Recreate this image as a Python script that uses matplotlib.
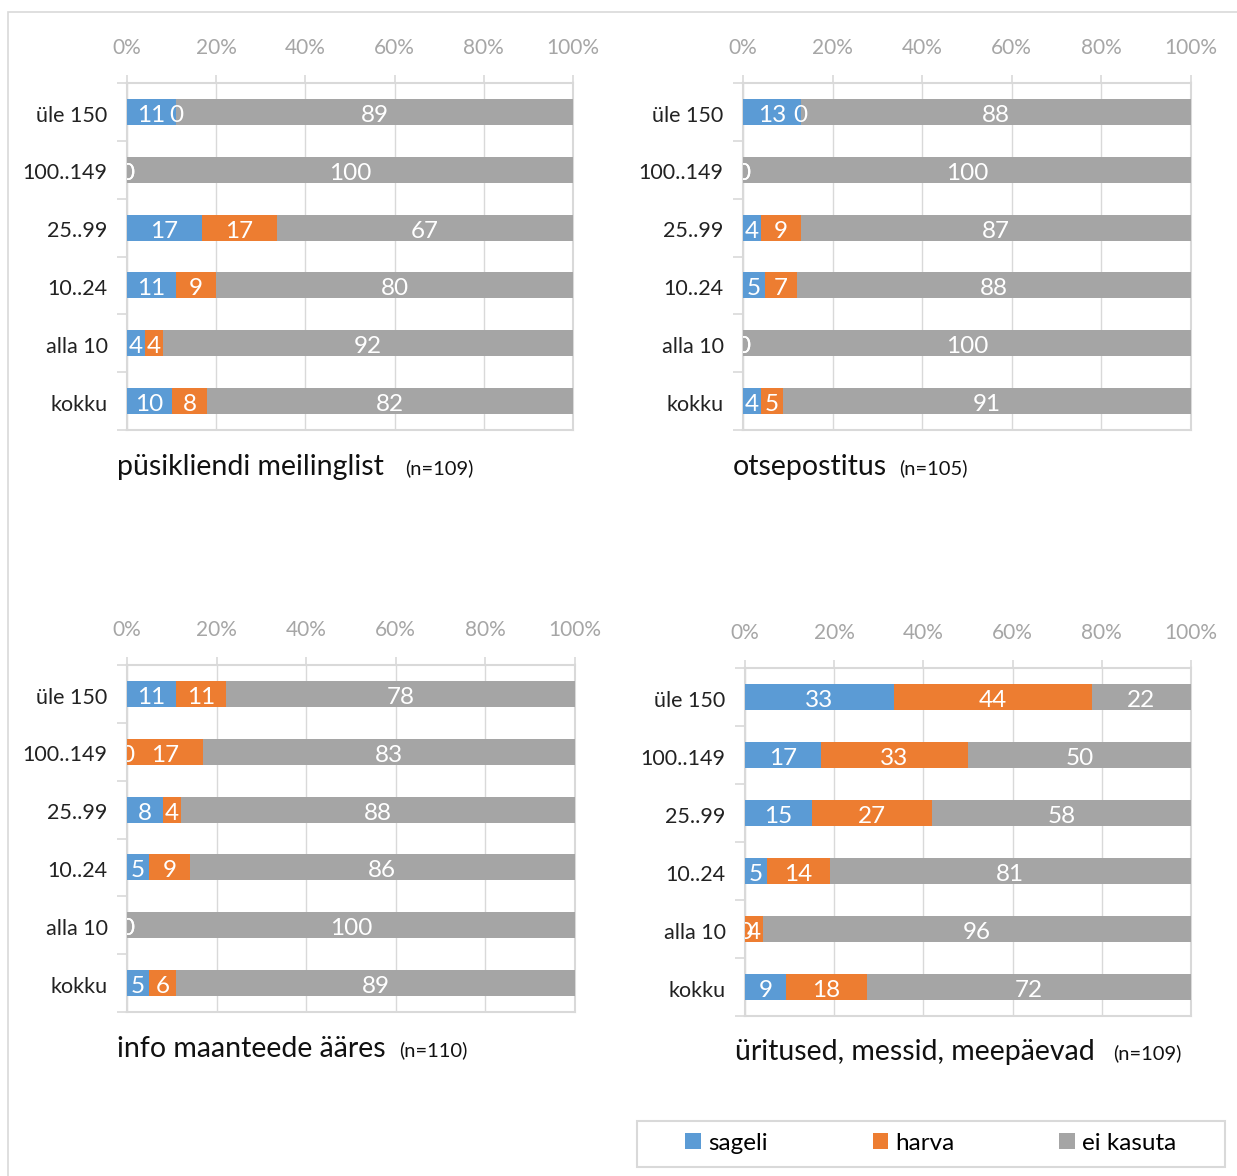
import matplotlib
matplotlib.use("Agg")
import matplotlib.pyplot as plt
import numpy as np
from matplotlib.patches import Rectangle, Patch

plt.rcParams['font.family'] = ['Lato', 'DejaVu Sans']

W, H = 1237, 1176

categories = ["üle 150", "100..149", "25..99", "10..24", "alla 10", "kokku"]
series_names = ["sageli", "harva", "ei kasuta"]
colors = ["#5B9BD5", "#ED7D31", "#A5A5A5"]
tick_labels = ["0%", "20%", "40%", "60%", "80%", "100%"]

titles = ["püsikliendi meilinglist", "otsepostitus", "info maanteede ääres", "üritused, messid, meepäevad"]
n_labels = ["(n=109)", "(n=105)", "(n=110)", "(n=109)"]

# values per panel: rows = categories, columns = sageli, harva, ei kasuta
p1_sageli = [11, 0, 17, 11, 4, 10]
p1_harva = [0, 0, 17, 9, 4, 8]
p1_ei = [89, 100, 67, 80, 92, 82]

p2_sageli = [13, 0, 4, 5, 0, 4]
p2_harva = [0, 0, 9, 7, 0, 5]
p2_ei = [88, 100, 87, 88, 100, 91]

p3_sageli = [11, 0, 8, 5, 0, 5]
p3_harva = [11, 17, 4, 9, 0, 6]
p3_ei = [78, 83, 88, 86, 100, 89]

p4_sageli = [33, 17, 15, 5, 0, 9]
p4_harva = [44, 33, 27, 14, 4, 18]
p4_ei = [22, 50, 58, 81, 96, 72]

panels = [
    (p1_sageli, p1_harva, p1_ei),
    (p2_sageli, p2_harva, p2_ei),
    (p3_sageli, p3_harva, p3_ei),
    (p4_sageli, p4_harva, p4_ei),
]

# layout in pixels: left, right, top, bottom
boxes = [(127, 573, 83, 430), (743, 1191, 83, 430), (127, 575, 665, 1012), (745, 1191, 668, 1016)]
title_pos = [(117, 467, 405), (733, 467, 899), (117, 1049, 399), (735, 1052, 1113)]

fig = plt.figure(figsize=(W / 100, H / 100), dpi=100)

def fx(x):
    return x / W

def fy(y):
    return 1 - y / H

# outer frame
fig.patches.append(Rectangle((fx(8), fy(1190)), fx(1250) - fx(8), fy(12) - fy(1190),
                             transform=fig.transFigure, fill=False, edgecolor="#d9d9d9", linewidth=1.2))

grid_c = "#d9d9d9"
for (s, h, e), (l, r, t, b), ttl, nl, tp in zip(panels, boxes, titles, n_labels, title_pos):
    ax = fig.add_axes([fx(l), fy(b), fx(r) - fx(l), fy(t) - fy(b)])
    data = np.array([s, h, e], dtype=float).T
    tot = data.sum(axis=1)
    frac = data / tot[:, None]
    y = np.arange(len(categories))
    left = np.zeros(len(categories))
    for k in range(3):
        ax.barh(y, frac[:, k], left=left, height=0.45, color=colors[k], zorder=3)
        for i in range(len(categories)):
            ax.text(left[i] + frac[i, k] / 2, y[i] + 0.06, f"{int(data[i, k])}",
                    ha="center", va="center", color="white", fontsize=17.5, zorder=4, clip_on=True)
        left += frac[:, k]
    ax.set_xlim(0, 1)
    ax.set_ylim(5.5, -0.5)
    ax.set_xticks(np.linspace(0, 1, 6))
    ax.set_xticklabels(tick_labels)
    ax.xaxis.tick_top()
    ax.tick_params(axis="x", colors=grid_c, labelcolor="#a6a6a6", labelsize=15, length=6, width=1.2, pad=12)
    ax.set_yticks(y + 0.03)
    ax.set_yticklabels(categories)
    ax.set_yticks(np.arange(-0.5, 6, 1), minor=True)
    ax.tick_params(axis="y", which="major", length=0, labelsize=15.5, labelcolor="#222222", pad=14)
    ax.tick_params(axis="y", which="minor", length=7, color=grid_c, width=1.2)
    ax.grid(axis="x", color=grid_c, linewidth=1, zorder=0)
    for sp in ax.spines.values():
        sp.set_color(grid_c)
        sp.set_linewidth(1.5)
    fig.text(fx(tp[0]), fy(tp[1]), ttl, fontsize=20.5, ha="left", va="center", color="#111111")
    fig.text(fx(tp[2]), fy(tp[1] + 1), nl, fontsize=14.5, ha="left", va="center", color="#111111")

# legend
fig.patches.append(Rectangle((fx(637), fy(1167)), fx(1225) - fx(637), fy(1121) - fy(1167),
                             transform=fig.transFigure, fill=False, edgecolor="#d9d9d9", linewidth=1.5))
handles = [Patch(facecolor=c, edgecolor="none", label=n) for c, n in zip(colors, series_names)]
fig.legend(handles=handles, ncol=3, loc="center", bbox_to_anchor=(fx(931), fy(1143)),
           frameon=False, fontsize=17.5, handlelength=0.65, handleheight=0.65, handletextpad=0.3,
           columnspacing=4.3)

fig.savefig("out.png", dpi=100, facecolor="white")
